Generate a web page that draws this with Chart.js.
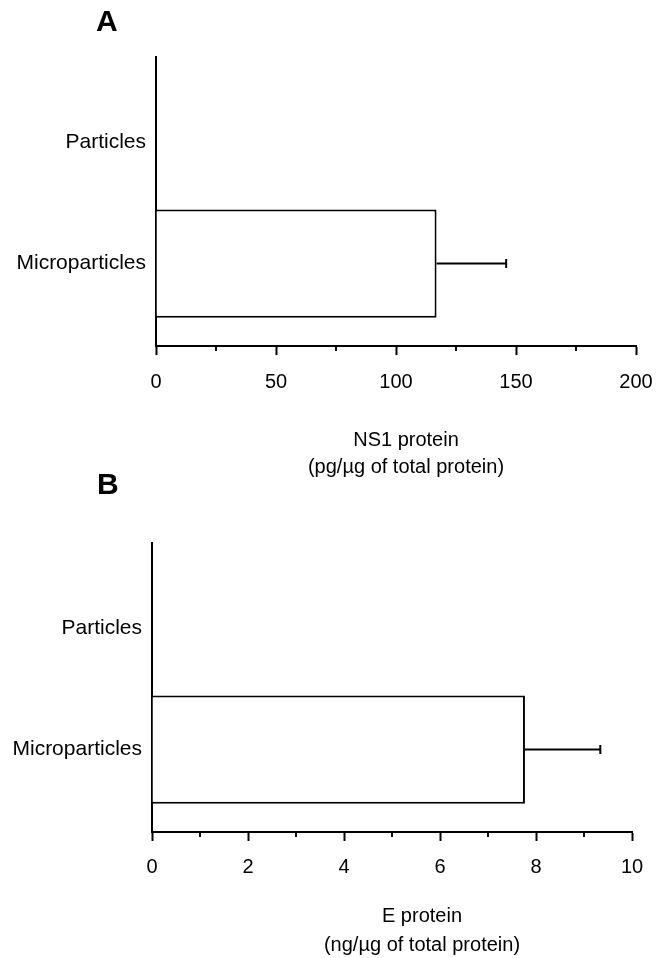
<!DOCTYPE html>
<html>
<head>
<meta charset="utf-8">
<title>NS1 and E protein</title>
<script src="https://cdn.jsdelivr.net/npm/chart.js@4"></script>
<style>
    body { margin: 0; background: #fff; }
    .panel { position: absolute; left: 0; width: 657px; height: 479px; }
    .letter { position: absolute; font: bold 30px "Liberation Sans", Arial, sans-serif; line-height: 30px; color: #000; }
</style>
</head>
<body>
<div class="panel" style="top:0"><canvas id="chartA" width="657" height="479"></canvas></div>
<div class="panel" style="top:479px"><canvas id="chartB" width="657" height="479"></canvas></div>
<div class="letter" style="left:96px; top:6px">A</div>
<div class="letter" style="left:97px; top:469px">B</div>
<script>
// Categories (top to bottom)
const categories = ['Particles', 'Microparticles'];

// Panel A: NS1 protein (pg/ug of total protein)
const ns1Means = [0, 116.9];
const ns1Errors = [0, 29];
const ns1Ticks = [0, 50, 100, 150, 200];

// Panel B: E protein (ng/ug of total protein)
const eMeans = [0, 7.77];
const eErrors = [0, 1.57];
const eTicks = [0, 2, 4, 6, 8, 10];

Chart.defaults.font.family = '"Liberation Sans", Arial, sans-serif';
Chart.defaults.color = '#000';

/**
 * Draw the upper error bar of every bar through the scales
 */
const errorBarPlugin = {
    id: 'errorBars',
    afterDatasetsDraw(chart) {
        const ctx = chart.ctx;
        const xs = chart.scales.x, ys = chart.scales.y;
        const ds = chart.data.datasets[0];
        ctx.save();
        ctx.strokeStyle = '#000';
        ctx.lineWidth = 2;
        ds.data.forEach((d, i) => {
            const err = ds.errors[i];
            if (!err) {
                return;
            }
            const x0 = xs.getPixelForValue(d.x);
            const x1 = xs.getPixelForValue(d.x + err);
            const y = ys.getPixelForValue(d.y);
            ctx.beginPath();
            ctx.moveTo(x0, y);
            ctx.lineTo(x1, y);
            ctx.moveTo(x1, y - 4.5);
            ctx.lineTo(x1, y + 4.5);
            ctx.stroke();
        });
        ctx.restore();
    }
};

/**
 * Draw the short minor ticks halfway between the major ones
 */
const minorTickPlugin = {
    id: 'minorTicks',
    afterDraw(chart) {
        const ctx = chart.ctx;
        const xs = chart.scales.x;
        ctx.save();
        ctx.strokeStyle = '#000';
        ctx.lineWidth = 2;
        for (var i = 0; i < xs.ticks.length - 1; ++i) {
            const x = Math.round(xs.getPixelForValue((xs.ticks[i].value + xs.ticks[i + 1].value) / 2));
            ctx.beginPath();
            ctx.moveTo(x, xs.top);
            ctx.lineTo(x, xs.top + 5);
            ctx.stroke();
        }
        ctx.restore();
    }
};

/**
 * Two line axis caption, drawn under the x axis
 * @param {string[]} lines text lines
 * @param {number} dx horizontal shift from the axis centre
 * @param {number[]} dy baseline of each line below the axis
 */
function captionPlugin(lines, dx, dy) {
    return {
        id: 'caption',
        afterDraw(chart) {
            const ctx = chart.ctx;
            const xs = chart.scales.x;
            ctx.save();
            ctx.fillStyle = '#000';
            ctx.font = '20px "Liberation Sans", Arial, sans-serif';
            ctx.textAlign = 'center';
            ctx.textBaseline = 'alphabetic';
            lines.forEach((line, i) => {
                ctx.fillText(line, (xs.left + xs.right) / 2 + dx, xs.top + dy[i]);
            });
            ctx.restore();
        }
    };
}

/**
 * Build one horizontal bar panel
 * @param {HTMLElement} canvas target canvas
 * @param {*} p panel settings
 */
function makePanel(canvas, p) {
    const data = {
        datasets: [{
            data: categories.map((c, i) => ({ x: p.means[i], y: i })),
            errors: p.errors,
            backgroundColor: '#fff',
            borderColor: '#000',
            borderWidth: 2,
            barPercentage: 0.893,
            categoryPercentage: 1,
        }]
    };

    const config = {
        type: 'bar',
        data: data,
        plugins: [errorBarPlugin, minorTickPlugin, captionPlugin(p.caption, p.captionDx, p.captionDy)],
        options: {
            indexAxis: 'y',
            responsive: false,
            animation: false,
            layout: { padding: { left: 0, top: p.top, right: 657 - p.right, bottom: 0 } },
            plugins: {
                legend: { display: false },
                tooltip: { enabled: false },
            },
            scales: {
                y: {
                    type: 'linear',
                    reverse: true,
                    offset: false,
                    min: -0.705,
                    max: 1.68,
                    afterBuildTicks: s => { s.ticks = categories.map((c, i) => ({ value: i })); },
                    afterFit: s => { s.width = p.left; },
                    grid: { display: false, drawTicks: false },
                    border: { display: true, color: '#000', width: 2 },
                    ticks: {
                        padding: 10,
                        font: { size: 21 },
                        callback: v => categories[v],
                    }
                },
                x: {
                    type: 'linear',
                    min: p.ticks[0],
                    max: p.ticks[p.ticks.length - 1],
                    afterBuildTicks: s => { s.ticks = p.ticks.map(v => ({ value: v })); },
                    afterFit: s => {
                        s.height = 479 - p.bottom;
                        s.paddingLeft = 0;
                        s.paddingRight = 0;
                    },
                    grid: {
                        drawOnChartArea: false,
                        tickLength: 9,
                        tickWidth: 2,
                        tickColor: '#000',
                    },
                    border: { display: true, color: '#000', width: 2 },
                    ticks: {
                        padding: p.tickPad,
                        font: { size: 20 },
                        maxRotation: 0,
                    }
                }
            }
        }
    };
    return new Chart(canvas, config);
}

makePanel(document.getElementById('chartA'), {
    means: ns1Means, errors: ns1Errors, ticks: ns1Ticks,
    left: 156, right: 636, top: 57, bottom: 346, tickPad: 15,
    caption: ['NS1 protein', '(pg/\u00b5g of total protein)'], captionDx: 10, captionDy: [100, 127],
});

makePanel(document.getElementById('chartB'), {
    means: eMeans, errors: eErrors, ticks: eTicks,
    left: 152, right: 632, top: 64, bottom: 353, tickPad: 14,
    caption: ['E protein', '(ng/\u00b5g of total protein)'], captionDx: 30, captionDy: [90, 119],
});
</script>
</body>
</html>
